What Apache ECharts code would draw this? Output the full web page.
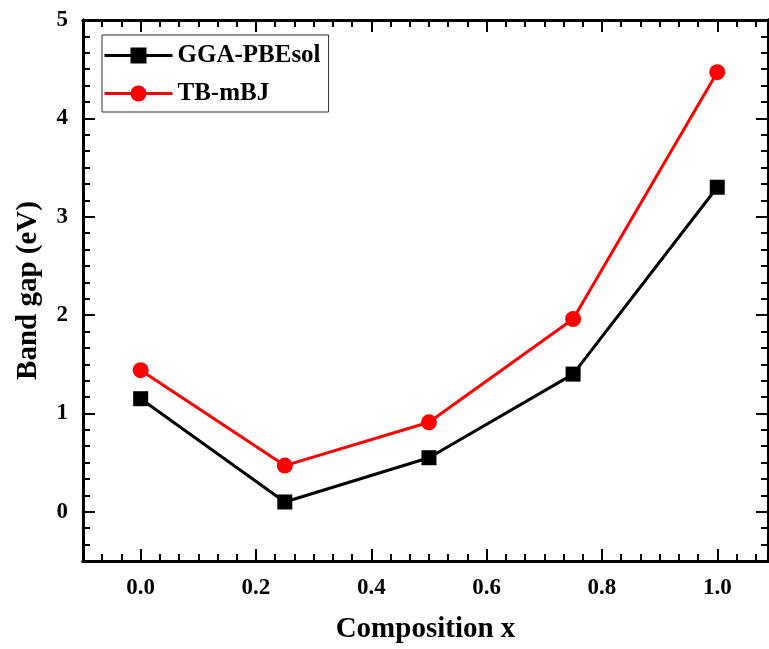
<!DOCTYPE html>
<html>
<head>
<meta charset="utf-8">
<title>Band gap vs composition</title>
<script src="https://cdn.jsdelivr.net/npm/echarts@6/dist/echarts.min.js"></script>
<style>
  html, body { margin: 0; padding: 0; background: #fff; }
  #chart { width: 769px; height: 649px; }
</style>
</head>
<body>
<div id="chart"></div>
<script>
// 数据：带隙值
var composition = [0, 0.25, 0.5, 0.75, 1.0];
var ggaPbesol = [1.15, 0.1, 0.55, 1.4, 3.3];
var tbMbj = [1.44, 0.47, 0.91, 1.96, 4.47];

// 刻度
var xMajor = [0, 0.2, 0.4, 0.6, 0.8, 1.0];
var yMajor = [0, 1, 2, 3, 4, 5];

var FONT = '"Liberation Serif", "Times New Roman", serif';

// 次刻度：每个主刻度分 6 格
function minorTicks(min, max, step, split) {
    var out = [];
    var s = step / split;
    for (var i = Math.ceil(min / s - 1e-6); i * s <= max + 1e-9; i++) {
        if (i % split !== 0) out.push(+(i * s).toFixed(6));
    }
    return out;
}

var xMin = -0.1, xMax = 1.088;
var yMin = -0.5, yMax = 5;
var xMinor = minorTicks(xMin, xMax, 0.2, 6);
var yMinor = minorTicks(yMin, yMax, 1, 6);

function pairs(xs, ys) {
    return xs.map(function (x, i) { return [x, ys[i]]; });
}

var axisLine = { show: true, onZero: false, lineStyle: { color: '#000', width: 3 } };

function xAxisDef(pos, ticks, len, labels) {
    return {
        type: 'value', min: xMin, max: xMax, position: pos,
        axisLine: axisLine,
        axisTick: { show: true, inside: true, length: len, customValues: ticks,
            lineStyle: { color: '#000', width: 2 } },
        axisLabel: labels ? {
            show: true, customValues: xMajor, margin: 16,
            formatter: function (v) { return v.toFixed(1); },
            fontFamily: FONT, fontWeight: 'bold', fontSize: 23, color: '#000'
        } : { show: false },
        splitLine: { show: false }
    };
}

function yAxisDef(pos, ticks, len, labels) {
    return {
        type: 'value', min: yMin, max: yMax, position: pos,
        axisLine: axisLine,
        axisTick: { show: true, inside: true, length: len, customValues: ticks,
            lineStyle: { color: '#000', width: 2 } },
        axisLabel: labels ? {
            show: true, customValues: yMajor, margin: 15,
            fontFamily: FONT, fontWeight: 'bold', fontSize: 23, color: '#000'
        } : { show: false },
        splitLine: { show: false }
    };
}

var xAxes = [
    xAxisDef('bottom', xMajor, 12, true),
    xAxisDef('bottom', xMinor, 7, false),
    xAxisDef('top', xMajor, 12, false),
    xAxisDef('top', xMinor, 7, false)
];
xAxes[0].name = 'Composition x';
xAxes[0].nameLocation = 'middle';
xAxes[0].nameGap = 54;
xAxes[0].nameTextStyle = { fontFamily: FONT, fontWeight: 'bold', fontSize: 29, color: '#000' };

var yAxes = [
    yAxisDef('left', yMajor, 12, true),
    yAxisDef('left', yMinor, 7, false),
    yAxisDef('right', yMajor, 12, false),
    yAxisDef('right', yMinor, 7, false)
];
yAxes[0].name = 'Band gap (eV)';
yAxes[0].nameLocation = 'middle';
yAxes[0].nameGap = 40;
yAxes[0].nameTextStyle = { fontFamily: FONT, fontWeight: 'bold', fontSize: 29, color: '#000' };

var myChart = echarts.init(document.getElementById('chart'));
var option = {
    backgroundColor: '#fff',
    animation: false,
    grid: { left: 83, right: 1, top: 20, bottom: 85 },
    legend: {
        left: 102, top: 35, orient: 'vertical',
        padding: [8, 8, 6, 1],
        itemWidth: 68, itemHeight: 20, itemGap: 13,
        borderColor: '#333', borderWidth: 1,
        lineStyle: { width: 3 },
        textStyle: { fontFamily: FONT, fontWeight: 'bold', fontSize: 25, color: '#000' },
        data: ['GGA-PBEsol', 'TB-mBJ']
    },
    xAxis: xAxes,
    yAxis: yAxes,
    series: [
        {
            name: 'GGA-PBEsol', type: 'line',
            symbol: 'rect', symbolSize: 15,
            lineStyle: { color: '#000', width: 3 },
            itemStyle: { color: '#000' },
            data: pairs(composition, ggaPbesol)
        },
        {
            name: 'TB-mBJ', type: 'line',
            symbol: 'circle', symbolSize: 16,
            lineStyle: { color: '#ff0000', width: 3 },
            itemStyle: { color: '#ff0000' },
            data: pairs(composition, tbMbj)
        }
    ]
};
myChart.setOption(option);
</script>
</body>
</html>
